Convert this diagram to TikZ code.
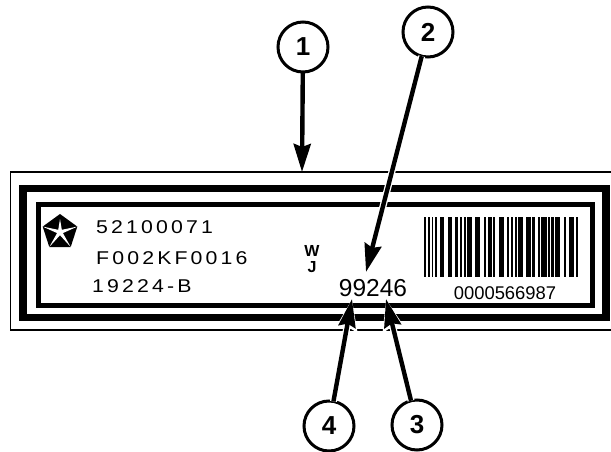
\documentclass[tikz,border=0pt]{standalone}
\usepackage{fontspec}
\setmainfont{Liberation Sans}
\newfontfamily\widefont[LetterSpace=17,FakeStretch=1.15]{Liberation Sans}
\usetikzlibrary{arrows.meta,calc}

\begin{document}
\begin{tikzpicture}[x=1pt,y=-1pt,
    callout/.style={circle, draw, line width=3pt, minimum size=50pt, inner sep=0pt, outer sep=0pt,
        font=\fontsize{26}{26}\selectfont\bfseries},
    leader/.style={line width=4.4pt, -{Stealth[length=28pt,width=17pt,inset=3pt]}},
    halo/.style={white, line width=7pt, -{Stealth[length=31pt,width=21pt,inset=3pt]}},
    plate/.style={font=\fontsize{18.5}{18.5}\selectfont\widefont, inner sep=0pt, anchor=west},
    revbold/.style={font=\fontsize{16}{16}\selectfont\bfseries, inner sep=0pt}]
    \useasboundingbox (0,0) rectangle (611,452);

    % Label frames
    \draw[line width=1.4pt] (611,172) -- (10.5,172) -- (10.5,330) -- (611,330);
    \draw[line width=7.5pt] (23,188.5) rectangle (606,317.5);
    \draw[line width=5pt] (38.5,204.5) rectangle (592,305.5);

    % Callouts
    \node[callout] (num1) at (303,47) {1};
    \node[callout] (num2) at (428,32) {2};
    \node[callout] (num3) at (417,425) {3};
    \node[callout] (num4) at (329,426) {4};

    \coordinate (tip1) at (302,172);
    \coordinate (tip2) at (366,272);
    \coordinate (tip3) at (386,299);
    \coordinate (tip4) at (352,299);

    % White gaps in the frames
    \draw[halo] (num2) -- (tip2);
    \draw[halo] (num3) -- (tip3);
    \draw[halo] (num4) -- (tip4);

    % Pentastar
    \fill (60,214) -- (77.3,226.6) -- (70.7,247) -- (49.3,247) -- (42.7,226.6) -- cycle;
    \fill[white] (60,219) -- (61.8,229.8) -- (77.3,226.6) -- (62.9,233.1) -- (70.7,247)
        -- (60,235.2) -- (49.3,247) -- (57.1,233.1) -- (42.7,226.6) -- (58.2,229.8) -- cycle;

    % Printed text
    \node[plate] (partno) at (96,227) {52100071};
    \node[plate] (boschno) at (96,258) {F002KF0016};
    \node[plate] (suffix) at (92,286) {19224-B};
    \node[revbold] (letterw) at (312,251) {W};
    \node[revbold] (letterj) at (312,267) {J};
    \node[font=\fontsize{24.5}{24.5}\selectfont, inner sep=0pt] (date) at (373,288) {99246};
    \node[font=\fontsize{18.4}{18.4}\selectfont, inner sep=0pt] (serial) at (505,293) {0000566987};

    % Barcode
    \foreach \xa/\xb in {424/426, 428/430, 432/433.3, 435/437.3, 439.7/444.3, 447.7/452,
        455.3/457.7, 460/462, 463.7/465.7, 467/472, 475.3/480.3, 483.7/486, 487.7/492,
        493/495.3, 499/504.3, 507/508.7, 510.7/512.7, 514.7/517, 518.3/523.3, 526/531,
        532/534.7, 538/540, 541.3/546.7, 548/550, 551.3/553.7, 554.7/559.7, 563.7/565.7,
        568.7/574, 576/578}
        \fill (\xa,217) rectangle (\xb,277);

    % Arrows
    \draw[leader] (num1) -- (tip1);
    \draw[leader] (num2) -- (tip2);
    \draw[leader] (num3) -- (tip3);
    \draw[leader] (num4) -- (tip4);
\end{tikzpicture}
\end{document}
